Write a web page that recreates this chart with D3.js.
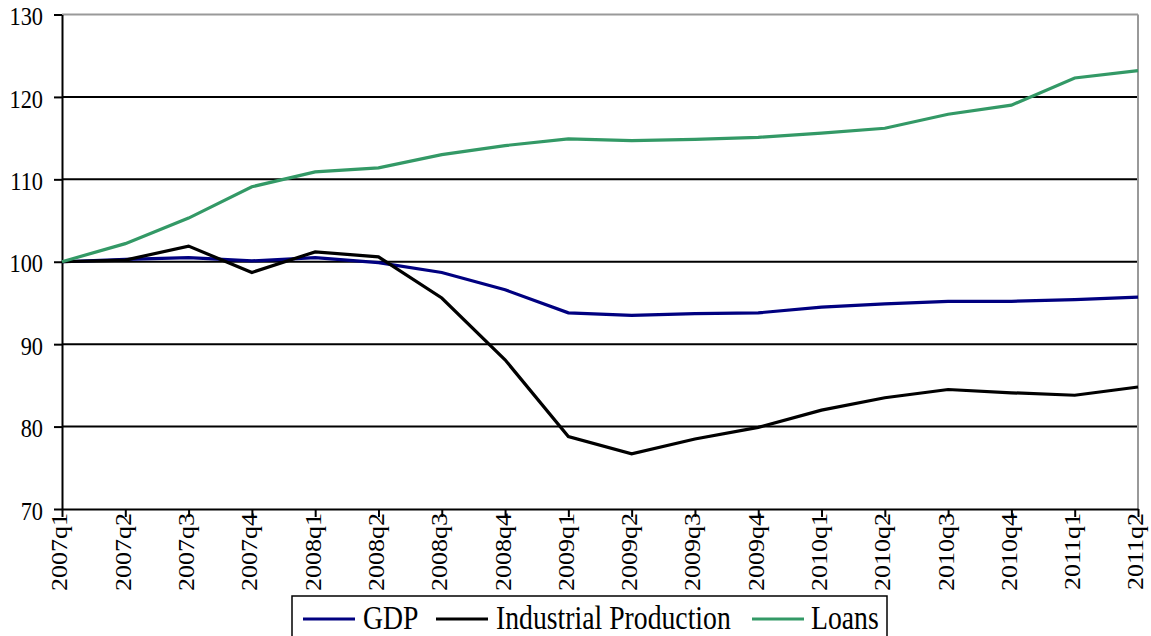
<!DOCTYPE html>
<html>
<head>
<meta charset="utf-8">
<script src="https://cdn.jsdelivr.net/npm/d3@7"></script>
<style>
  html, body { margin: 0; padding: 0; background: #fff; }
  svg { display: block; }
</style>
</head>
<body>
<svg id="chart" width="1151" height="636"></svg>
<script>
const categories = ["2007q1","2007q2","2007q3","2007q4","2008q1","2008q2","2008q3","2008q4",
  "2009q1","2009q2","2009q3","2009q4","2010q1","2010q2","2010q3","2010q4","2011q1","2011q2"];
const gdp = [100, 100.3, 100.5, 100.1, 100.5, 99.9, 98.7, 96.6, 93.8, 93.5, 93.7, 93.8, 94.5, 94.9, 95.2, 95.2, 95.4, 95.7];
const industrialProduction = [100, 100.2, 101.9, 98.7, 101.2, 100.6, 95.6, 88.1, 78.8, 76.7, 78.5, 79.9, 82.0, 83.5, 84.5, 84.1, 83.8, 84.8];
const loans = [100, 102.2, 105.3, 109.1, 110.9, 111.4, 113.0, 114.1, 114.9, 114.7, 114.85, 115.1, 115.6, 116.2, 117.9, 119.0, 122.3, 123.2];
const yTicks = [70, 80, 90, 100, 110, 120, 130];
const seriesNames = ["GDP", "Industrial Production", "Loans"];
const seriesColors = ["#000080", "#000000", "#339966"];

const series = [gdp, industrialProduction, loans].map((v, i) => ({ name: seriesNames[i], color: seriesColors[i], values: v }));

const FONT = "Liberation Serif";
const plotLeft = 62, plotRight = 1138, plotTop = 14.5, plotBottom = 509;
const svg = d3.select("#chart");
const x = d3.scalePoint().domain(categories).range([plotLeft, plotRight]);
const y = d3.scaleLinear().domain([70, 130]).range([plotBottom, plotTop]);

// gridlines
svg.append("g").selectAll("line").data(yTicks.filter(t => t > 70 && t < 130)).join("line")
  .attr("x1", plotLeft).attr("x2", plotRight)
  .attr("y1", d => y(d)).attr("y2", d => y(d))
  .attr("stroke", "#000").attr("stroke-width", 2);

// top & right border (grey)
svg.append("line").attr("x1", plotLeft).attr("x2", plotRight).attr("y1", y(130)).attr("y2", y(130))
  .attr("stroke", "#999").attr("stroke-width", 2);
svg.append("line").attr("x1", plotRight).attr("x2", plotRight).attr("y1", y(130)).attr("y2", plotBottom)
  .attr("stroke", "#999").attr("stroke-width", 2);

// y axis
const yAxis = svg.append("g").attr("transform", `translate(${plotLeft},0)`)
  .call(d3.axisLeft(y).tickValues(yTicks).tickSize(8).tickPadding(0).tickSizeOuter(0));
yAxis.attr("font-family", FONT).attr("font-size", 26);
yAxis.select(".domain").attr("stroke", "#000").attr("stroke-width", 2);
yAxis.selectAll(".tick line").attr("stroke", "#000").attr("stroke-width", 2);
yAxis.selectAll(".tick text")
  .attr("x", null).attr("dy", "0.35em")
  .attr("text-anchor", "end")
  .attr("font-family", FONT).attr("font-size", 26).attr("fill", "#000")
  .attr("transform", "translate(-19,1) scale(0.86,1)");

// x axis
const xAxis = svg.append("g").attr("transform", `translate(0,${plotBottom})`)
  .call(d3.axisBottom(x).tickSize(8).tickPadding(0).tickSizeOuter(0));
xAxis.attr("font-family", FONT).attr("font-size", 26);
xAxis.select(".domain").attr("stroke", "#000").attr("stroke-width", 2);
xAxis.selectAll(".tick line").attr("stroke", "#000").attr("stroke-width", 2);
xAxis.selectAll(".tick text")
  .attr("y", null).attr("dy", "5.8")
  .attr("text-anchor", "end")
  .attr("font-family", FONT).attr("font-size", 26).attr("fill", "#000")
  .attr("transform", "translate(0,4) scale(0.86,1) rotate(-90)");

// lines
const line = d3.line().x((d, i) => x(categories[i])).y(d => y(d));
svg.append("g").selectAll("path").data(series).join("path")
  .attr("d", d => line(d.values))
  .attr("fill", "none")
  .attr("stroke", d => d.color)
  .attr("stroke-width", 3.2)
  .attr("stroke-linejoin", "miter");

// legend
const lg = svg.append("g");
lg.append("rect").attr("x", 292).attr("y", 596).attr("width", 595).attr("height", 44)
  .attr("fill", "#fff").attr("stroke", "#000").attr("stroke-width", 1.5);
const legendX = [[303, 363], [436, 496], [752, 811]];
series.forEach((s, i) => {
  lg.append("line").attr("x1", legendX[i][0]).attr("x2", legendX[i][0] + 52)
    .attr("y1", 619).attr("y2", 619).attr("stroke", s.color).attr("stroke-width", 3.2);
  lg.append("text").attr("x", 0).attr("y", 0)
    .attr("font-family", FONT).attr("font-size", 33).attr("fill", "#000")
    .attr("transform", `translate(${legendX[i][1]},629) scale(0.84,1)`)
    .text(s.name);
});
</script>
</body>
</html>
